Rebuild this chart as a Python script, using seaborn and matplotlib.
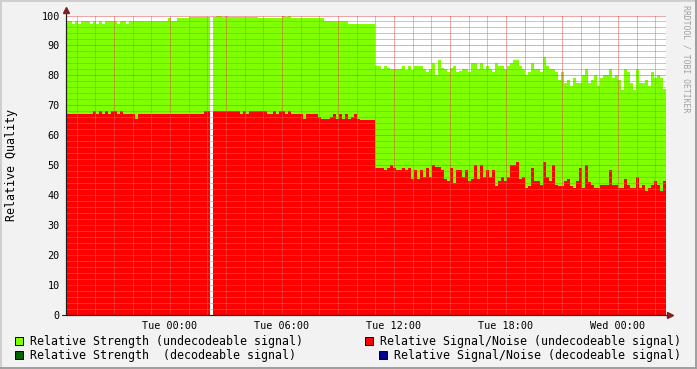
import numpy as np
import pandas as pd
import matplotlib
matplotlib.use("Agg")
import matplotlib.pyplot as plt
import seaborn as sns
from matplotlib.ticker import MultipleLocator, FuncFormatter
from matplotlib.patches import Rectangle
from matplotlib.lines import Line2D

# ---------------- data ----------------
# sample times: hours relative to Tue 00:00, one sample every ~9.6 minutes
t_start = -5.571
t_step = 0.16071

strength = [
    98, 98, 97, 98, 97, 98, 98, 98, 97, 98,
    97, 98, 97, 98, 98, 98, 98, 97, 98, 98,
    97, 98, 98, 98, 98, 98, 98, 98, 98, 98,
    98, 98, 98, 98, 99, 98, 98, 99, 99, 99,
    99, 99.5, 99.5, 99.5, 99.5, 99.5, 99.5, 99.5, np.nan, 99.5,
    100, 100, 99.5, 100, 99.5, 99.5, 99.5, 99.5, 99.5, 99.5,
    99.5, 99.5, 99.5, 99.5, 99, 99, 99, 99, 99, 99,
    99, 99, 100, 99.5, 100, 99, 99, 99, 99, 99,
    99, 99, 99, 99, 99, 99, 98, 98, 98, 98,
    98, 98, 98, 98, 97.3, 97.3, 97.3, 97.3, 97.3, 97.3,
    97.3, 97, 97.3, 83, 83, 82, 83, 82.5, 82, 82,
    82, 82, 83, 81.7, 83, 81.7, 83, 83, 83, 82,
    81.3, 82, 84, 80, 85, 82.5, 82, 81, 82.5, 83,
    81.3, 81.5, 82, 82, 81.3, 84, 84, 82, 84, 82,
    83, 82, 81.3, 84, 83, 83, 82, 83, 84, 85,
    85, 83, 82, 80, 81, 84, 82, 82, 81, 86,
    83, 82, 82, 81, 78.5, 81, 77.4, 78.5, 76.3, 79,
    77.6, 77.6, 80, 82, 77.4, 78.5, 80, 76.5, 79, 80,
    80, 82, 79, 80, 78.5, 75.2, 82, 81, 77.4, 75,
    82, 77.4, 77.4, 78.5, 76.3, 81, 79, 80, 79, 75.5,
]

snr = [
    67, 67, 67, 67, 67, 67, 67, 67, 67, 68,
    67, 68, 67, 68, 67, 68, 68, 67, 68, 67,
    67, 67, 67, 65.5, 67, 67, 67, 67, 67, 67,
    67, 67, 67, 67, 67, 67, 67, 67, 67, 67,
    67, 67, 67, 67, 67, 67, 68, 68, np.nan, 68,
    68, 68, 68, 68, 68, 68, 68, 68, 67, 68,
    67, 68, 68, 68, 68, 68, 68, 67, 67, 68,
    67, 68, 68, 67, 68, 67, 67, 67, 67, 65.5,
    67, 67, 67, 67, 66, 65.5, 65.5, 65.5, 66, 67,
    65.5, 67, 65.5, 67, 65.5, 66, 67, 65.5, 65.2, 65.2,
    65.2, 65.2, 65.2, 49.2, 49.2, 49.2, 48.3, 49.2, 50, 49.2,
    48.3, 48.3, 49, 48.3, 49.2, 45.3, 48.3, 45.3, 48.3, 46,
    49.2, 46.2, 50, 49.5, 49.5, 48.3, 45.3, 44.7, 49, 44,
    48.3, 48.3, 46.2, 48.3, 44.7, 45.3, 50, 45.3, 50, 46.2,
    48.3, 46, 48.3, 43.2, 44.7, 46.2, 44.7, 46.2, 50, 50,
    51, 45.3, 46, 42.3, 43.2, 49.2, 44.7, 44.7, 43.5, 51,
    46, 44.7, 50, 43.5, 43, 43, 44.7, 45.3, 43.2, 42.3,
    44.7, 49.2, 42.3, 50, 44.5, 43.5, 42.3, 42.3, 43.5, 43.5,
    43.5, 48.3, 43.5, 43.5, 42.3, 42.3, 45.3, 43.5, 42.3, 42.3,
    46, 42.3, 43.5, 41.5, 42.3, 43.5, 44.7, 43.5, 41.5, 44.7,
]

tick_hours = [0, 6, 12, 18, 24]
tick_labels = ["Tue 00:00", "Tue 06:00", "Tue 12:00", "Tue 18:00", "Wed 00:00"]

legend_labels = [
    "Relative Strength (undecodeable signal)",
    "Relative Signal/Noise (undecodeable signal)",
    "Relative Strength  (decodeable signal)",
    "Relative Signal/Noise (decodeable signal)",
]
legend_colors = ["#7FFF00", "#FF0000", "#006400", "#00008C"]

# ---------------- figure ----------------
sns.set_style("white")
plt.rcParams["font.family"] = ["DejaVu Sans Mono", "DejaVu Sans"]

W, H = 697, 369
fig = plt.figure(figsize=(W / 100, H / 100), dpi=100, facecolor="#F2F2F2")


def fx(x):
    return x / W


def fy(y):
    return 1 - y / H


L, R, T, B = 66, 666, 15.5, 315
ax = fig.add_axes([fx(L), fy(B), (R - L) / W, (B - T) / H])
ax.set_facecolor("white")

n = len(strength)
edges = t_start + t_step * np.arange(n + 1)
df = pd.DataFrame({
    "time": edges[:-1] + t_step / 2,
    "strength": strength,
    "snr": snr,
})

for col, color in [("strength", "#7FFF00"), ("snr", "#FF0000")]:
    sub = df.dropna(subset=[col])
    sns.histplot(data=sub, x="time", weights=col, bins=n,
                 binrange=(float(edges[0]), float(edges[-1])),
                 element="step", fill=True, color=color, alpha=1, linewidth=0, ax=ax)

ax.set_xlim(edges[0], edges[-1])
ax.set_ylim(0, 100)
ax.set_xlabel("")
ax.set_ylabel("")

# grids
ax.xaxis.set_major_locator(MultipleLocator(3))
ax.xaxis.set_minor_locator(MultipleLocator(1))
lab = dict(zip(tick_hours, tick_labels))
ax.xaxis.set_major_formatter(FuncFormatter(lambda v, p: lab.get(int(round(v)), "")))
ax.yaxis.set_major_locator(MultipleLocator(10))
ax.yaxis.set_minor_locator(MultipleLocator(2))
ax.set_axisbelow(False)
ax.grid(True, which="major", color=(0.87, 0.31, 0.31, 0.45), linestyle=(0, (1, 1)), linewidth=0.72)
ax.grid(True, which="minor", color=(0.56, 0.56, 0.56, 0.42), linestyle=(0, (1, 1)), linewidth=0.72)

for s in ["top", "right"]:
    ax.spines[s].set_visible(False)
for s in ["left", "bottom"]:
    ax.spines[s].set_color("#1F1F1F")
    ax.spines[s].set_linewidth(0.8)
    ax.spines[s].set_zorder(5)

ax.tick_params(axis="both", which="major", direction="out", length=2.5, width=0.7,
               color="#8F8F8F", labelsize=7.25, labelcolor="black", pad=2)
ax.tick_params(axis="both", which="minor", direction="out", length=1.5, width=0.7,
               color="#BBBBBB")

# axis arrows
arrow_col = "#801F1F"
fig.add_artist(Line2D([fx(L), fx(L)], [fy(B), fy(9)], color="#1F1F1F", lw=0.8))
fig.add_artist(Line2D([fx(L - 4), fx(669)], [fy(B), fy(B)], color="#1F1F1F", lw=0.8))
fig.add_artist(Line2D([fx(L)], [fy(10)], marker="^", color=arrow_col, markersize=4, lw=0))
fig.add_artist(Line2D([fx(670)], [fy(B)], marker=">", color=arrow_col, markersize=4, lw=0))

# y label and watermark
fig.text(fx(12), fy(165), "Relative Quality", rotation=90, ha="center", va="center",
         fontsize=8.4, color="black")
fig.text(fx(686), fy(5), "RRDTOOL / TOBI OETIKER", rotation=270, ha="center", va="top",
         fontsize=5.9, color="#A0A0A0")

# legend
leg_pos = [(15, 337, 30), (365, 337, 380), (15, 351, 30), (379, 351, 394)]
for (sx, sy, tx), txt, col in zip(leg_pos, legend_labels, legend_colors):
    fig.add_artist(Rectangle((fx(sx), fy(sy + 8)), 8 / W, 8 / H, transform=fig.transFigure,
                             facecolor=col, edgecolor="black", linewidth=0.7))
    fig.text(fx(tx), fy(sy + 4), txt, ha="left", va="center", fontsize=8.4, color="black")

# image border (shade A top/left, shade B bottom/right)
fig.add_artist(Line2D([0, 1], [fy(0.5), fy(0.5)], color="#CFCFCF", lw=1.4))
fig.add_artist(Line2D([fx(0.5), fx(0.5)], [0, 1], color="#CFCFCF", lw=1.4))
fig.add_artist(Line2D([0, 1], [fy(H - 1), fy(H - 1)], color="#9E9E9E", lw=1.4))
fig.add_artist(Line2D([fx(W - 1), fx(W - 1)], [0, 1], color="#9E9E9E", lw=1.4))

fig.savefig("out.png", dpi=100, facecolor=fig.get_facecolor())
